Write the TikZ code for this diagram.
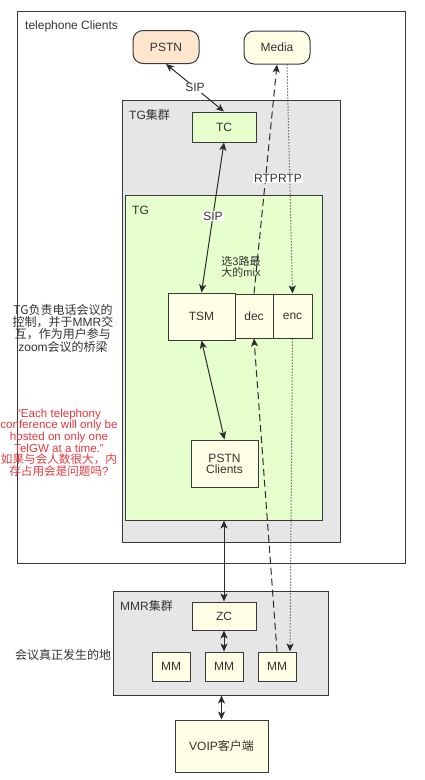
\documentclass[tikz,border=0pt]{standalone}
\usepackage{fontspec}
\setmainfont{Liberation Sans}
\newfontfamily\cjk{Noto Sans CJK SC}
\usetikzlibrary{arrows.meta,calc}
\definecolor{strokec}{HTML}{36393D}
\definecolor{linec}{HTML}{2B2B2B}
\definecolor{txt}{HTML}{333333}
\definecolor{cream}{HTML}{FFFFE6}
\definecolor{peach}{HTML}{FFE6CC}
\definecolor{grayfill}{HTML}{E6E6E6}
\definecolor{greenfill}{HTML}{E6FFCC}
\definecolor{redtxt}{HTML}{E5393F}
\tikzset{
  box/.style={draw=strokec, fill=cream, text=txt, inner sep=0pt, line width=1pt,
    font=\fontsize{12}{12}\selectfont, align=center},
  container/.style={draw=strokec, inner sep=0pt, line width=1pt},
  rbox/.style={box, rounded corners=10pt},
  lbl/.style={text=txt, inner sep=0pt, font=\fontsize{12}{12}\selectfont},
  para/.style={text=txt, inner sep=0pt, align=center, font=\fontsize{12}{10}\selectfont},
  conn/.style={draw=linec, line width=1pt},
  tip/.style={-{Stealth[length=8pt,width=7pt,inset=2pt]}},
  bitip/.style={{Stealth[length=8pt,width=7pt,inset=2pt]}-{Stealth[length=8pt,width=7pt,inset=2pt]}},
  dashline/.style={dash pattern=on 7pt off 4pt},
  dotline/.style={dash pattern=on 1pt off 2pt},
  wlbl/.style={lbl, fill=white, inner sep=1pt}
}
\begin{document}
\begin{tikzpicture}[x=1pt,y=-1pt]
\path[use as bounding box, fill=white] (0,0) rectangle (424,780);

% containers
\node[container, fill=white, minimum width=388pt, minimum height=552pt] (outer) at (211,287) {};
\node[lbl, anchor=west] (outerlbl) at (25,26) {telephone Clients};
\node[container, fill=grayfill, minimum width=218pt, minimum height=442pt] (tgc) at (231,321) {};
\node[lbl, anchor=west] (tgclbl) at (129,115) {TG{\cjk 集群}};
\node[container, fill=greenfill, minimum width=197pt, minimum height=325pt] (tg) at (223.5,357.5) {};
\node[lbl, anchor=west] (tglbl) at (132,210) {TG};
\node[container, fill=grayfill, minimum width=215pt, minimum height=104pt] (mmr) at (220.5,643) {};
\node[lbl, anchor=west] (mmrlbl) at (120,606) {MMR{\cjk 集群}};

% nodes
\node[rbox, fill=peach, minimum width=66pt, minimum height=33pt] (pstn) at (166,47) {PSTN};
\node[rbox, minimum width=66pt, minimum height=33pt] (media) at (277,47.5) {Media};
\node[box, fill=greenfill, minimum width=64pt, minimum height=30pt] (tc) at (224,127) {TC};
\node[box, minimum width=67pt, minimum height=47pt] (tsm) at (201.5,316.5) {TSM};
\node[box, minimum width=38pt, minimum height=44pt] (dec) at (254,316) {dec};
\node[box, minimum width=39pt, minimum height=44pt] (enc) at (292.5,316) {enc};
\node[box, minimum width=67pt, minimum height=47pt, font=\fontsize{12}{11}\selectfont] (pc) at (224.5,463.5) {PSTN\\Clients};
\node[box, minimum width=64pt, minimum height=28pt] (zc) at (224,616) {ZC};
\node[box, minimum width=38pt, minimum height=29pt] (mma) at (171,666.5) {MM};
\node[box, minimum width=38pt, minimum height=29pt] (mmb) at (224,666.5) {MM};
\node[box, minimum width=38pt, minimum height=29pt] (mmc) at (277,666.5) {MM};
\node[box, minimum width=93pt, minimum height=52pt] (voip) at (221.5,746) {VOIP{\cjk 客户端}};

% side texts
\node[para] (note1) at (63,328) {{\cjk TG负责电话会议的}\\{\cjk 控制，并于}MMR{\cjk 交}\\{\cjk 互，作为用户参与}\\zoom{\cjk 会议的桥梁}};
\node[para, text=redtxt, font=\fontsize{11.6}{10.8}\selectfont] (note2) at (59,442.5) {“Each telephony\\conference will only be\\hosted on only one\\TelGW at a time.”\\{\cjk 如果与会人数很大，内}\\{\cjk 存占用会是问题吗}?};
\node[lbl, anchor=west] (note3) at (15,655) {\cjk 会议真正发生的地};
\node[para, font=\fontsize{11}{10}\selectfont] (mixlbl) at (241,267) {{\cjk 选}3{\cjk 路最}\\{\cjk 大的}mix};

% connectors
\draw[conn, bitip] (pstn.south) -- node[wlbl] (sip1) {SIP} (tc.north);
\draw[conn, bitip] (tc.south) -- node[wlbl, pos=0.49] (sip2) {SIP} (tsm.north);
\draw[conn, bitip] (tsm.south) -- (pc.north);
\draw[conn, bitip] (zc.north |- tg.south) -- (zc.north);
\draw[conn, bitip] (zc.south) -- (mmb.north);
\draw[conn, bitip] (voip.north |- mmr.south) -- (voip.north);

\draw[conn, tip, dashline] (mmc.north) -- (dec.south);
\draw[conn, tip, dashline] (dec.north) -- (media.south);
\coordinate (mediadot) at ([xshift=10pt]media.south);
\coordinate (mmdot) at ([xshift=13pt]mmc.north);
\draw[conn, tip, dotline] (mediadot) -- (enc.north);
\draw[conn, tip, dotline] (enc.south) -- (mmdot);

\node[wlbl] (rtp) at (278,178) {RTPRTP};
\end{tikzpicture}
\end{document}
